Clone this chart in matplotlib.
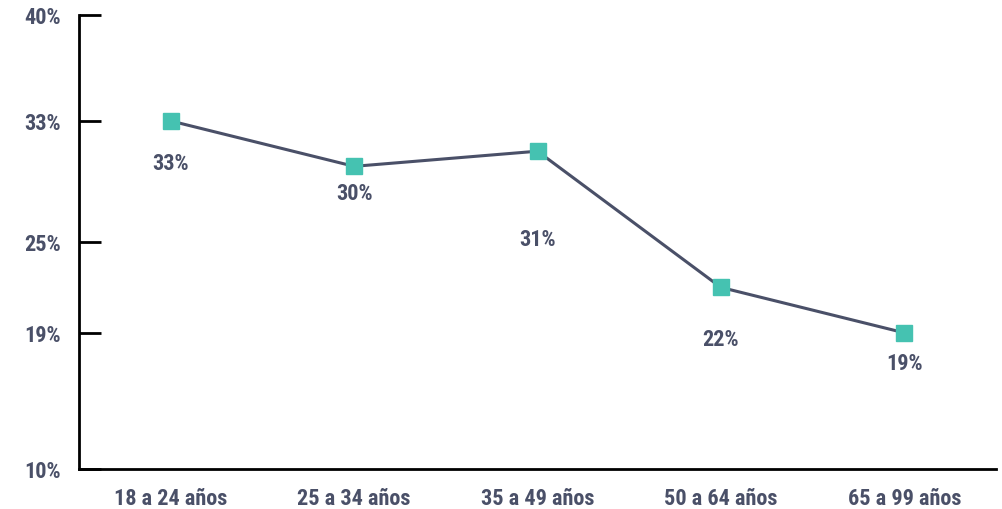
import matplotlib
matplotlib.use('Agg')
import matplotlib.pyplot as plt

# age groups and share per group
categories = ['18 a 24 años', '25 a 34 años', '35 a 49 años', '50 a 64 años', '65 a 99 años']
values = [33, 30, 31, 22, 19]
value_labels = ['33%', '30%', '31%', '22%', '19%']
y_ticks = [10, 19, 25, 33, 40]
y_tick_labels = ['10%', '19%', '25%', '33%', '40%']

# how far under each point its label sits (points)
label_offsets = [-30, -19, -63, -37, -22]

text_color = '#4a5068'
line_color = '#4a5068'
marker_color = '#45c2b1'

plt.rcParams['font.family'] = ['Roboto Condensed', 'Liberation Sans Narrow', 'Roboto', 'DejaVu Sans']
plt.rcParams['font.weight'] = 'bold'

fig = plt.figure(figsize=(10.02, 5.10), dpi=100)
ax = fig.add_axes([79 / 1002, 1 - 470 / 510, 917 / 1002, (470 - 16) / 510])

x = list(range(len(categories)))
ax.plot(x, values, color=line_color, linewidth=2.2, zorder=2)
ax.plot(x, values, linestyle='none', marker='s', markersize=12,
        color=marker_color, zorder=3)

for xi, v, lab, off in zip(x, values, value_labels, label_offsets):
    ax.annotate(lab, (xi, v), xytext=(0, off), textcoords='offset points',
                ha='center', va='center', fontsize=16, fontweight='bold',
                color=text_color)

ax.set_xlim(-0.5, 4.5)
ax.set_ylim(10, 40)
ax.set_xticks(x)
ax.set_xticklabels(categories)
ax.set_yticks(y_ticks)
ax.set_yticklabels(y_tick_labels)

ax.tick_params(axis='x', length=0, pad=13, labelsize=16, labelcolor=text_color)
ax.tick_params(axis='y', direction='in', length=16, width=2, pad=13,
               labelsize=16, labelcolor=text_color, color='black')

for side in ['top', 'right']:
    ax.spines[side].set_visible(False)
for side in ['left', 'bottom']:
    ax.spines[side].set_linewidth(2)
    ax.spines[side].set_color('black')

fig.savefig('out.png', dpi=100)
